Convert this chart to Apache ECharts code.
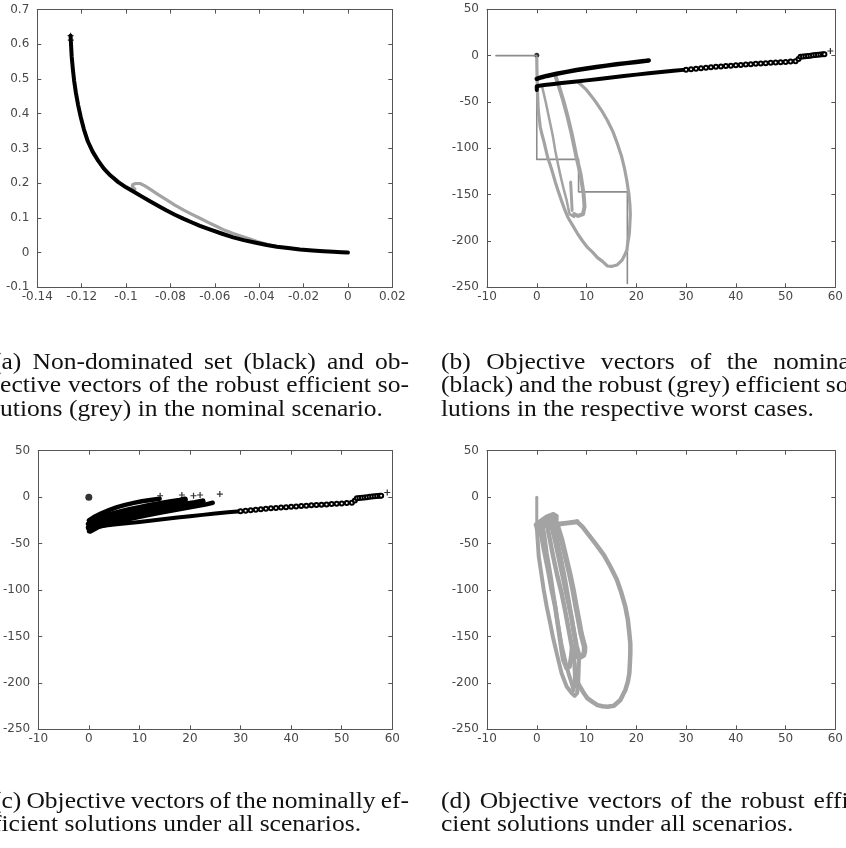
<!DOCTYPE html>
<html><head><meta charset="utf-8">
<script src="https://cdn.jsdelivr.net/npm/echarts@6/dist/echarts.min.js"></script>
<style>html,body{margin:0;padding:0;background:#fff}#c{width:846px;height:848px}</style>
</head><body><div id="c"></div>
<script>
// ---------- axis ranges [min, max, interval] ----------
const aXRange = [-0.14, 0.02, 0.02];
const aYRange = [-0.1, 0.7, 0.1];
const bXRange = [-10, 60, 10];
const bYRange = [-250, 50, 50];

// ---------- (a) nominal scenario ----------
const aNonDominated = [[-0.1250,0.625],[-0.1248,0.600],[-0.1245,0.565],[-0.1240,0.530],[-0.1234,0.495],[-0.1226,0.460],[-0.1216,0.425],[-0.1204,0.390],[-0.1190,0.355],[-0.1172,0.320],[-0.1150,0.290],[-0.1125,0.264],[-0.1100,0.242],[-0.1070,0.222],[-0.1035,0.203],[-0.1000,0.188],[-0.0967,0.176],[-0.0930,0.162],[-0.0890,0.147],[-0.0850,0.133],[-0.0817,0.121],[-0.0780,0.109],[-0.0740,0.097],[-0.0700,0.086],[-0.0667,0.077],[-0.0620,0.066],[-0.0570,0.055],[-0.0517,0.044],[-0.0470,0.036],[-0.0420,0.029],[-0.0366,0.022],[-0.0320,0.017],[-0.0270,0.013],[-0.0216,0.009],[-0.0160,0.006],[-0.0110,0.004],[-0.0066,0.0025],[-0.0030,0.001],[0.0000,0.000]];
const aTopPlus = [[-0.1250,0.625],[-0.1249,0.612]];
const aRobust = [[-0.0960,0.183],[-0.0972,0.190],[-0.0970,0.196],[-0.0957,0.199],[-0.0937,0.199],[-0.0915,0.192],[-0.0892,0.183],[-0.0855,0.167],[-0.0817,0.152],[-0.0780,0.137],[-0.0742,0.123],[-0.0705,0.111],[-0.0667,0.099],[-0.0630,0.087],[-0.0591,0.075],[-0.0555,0.064],[-0.0517,0.055],[-0.0480,0.047],[-0.0441,0.039],[-0.0410,0.032],[-0.0381,0.027],[-0.0350,0.021],[-0.0320,0.017]];

// ---------- nominal efficient, lower branch (b, c) ----------
const lowerDense = [[0,-37],[0,-33],[0.5,-32.5],[1.5,-31.8],[3,-30.8],[5,-29.6],[7.5,-28.2],[10,-26.7],[12.5,-25.2],[15,-23.6],[17.5,-22],[20,-20.5],[22.5,-19.1],[25,-17.7],[27.5,-16.4],[30,-15.1]];
const lowerSparse = [[30,-15.1],[31,-14.6],[32,-14.1],[33,-13.6],[34,-13.1],[35,-12.6],[36,-12.1],[37,-11.6],[38,-11.2],[39,-10.8],[40,-10.4],[41,-10],[42,-9.6],[43,-9.2],[44,-8.8],[45,-8.4],[46,-8.1],[47,-7.8],[48,-7.4],[49,-7.1],[50,-6.8],[51,-6.4],[52,-6.0]];
const lowerJump = [[52.6,-3.5],[53,-1.2],[53.5,-0.9],[54,-0.6],[54.5,-0.3],[55,0],[55.5,0.3],[56,0.6],[56.5,0.9],[57,1.1],[57.5,1.4],[57.8,1.6]];
const lowerOutlierCircle = [[58.5,-2.5]];
const lowerOutlierPlus = [[59,5]];

// ---------- (b) worst cases ----------
const bNominalUpper = [[0,-25],[0.3,-24.5],[1,-23.3],[2,-21.9],[4,-19.6],[6,-17.5],[8,-15.6],[10,-13.9],[12,-12.3],[14,-10.8],[16,-9.4],[18,-8.1],[20,-6.9],[22,-5.6],[22.5,-5.2]];
const bOrigin = [[0,0.5]];
const bWorstStep = [[-8.2,0],[0,0],[0,-112],[8.4,-112],[8.4,-147],[18.2,-147],[18.2,-246]];
const bRobustOuter = [[8.3,-28.5],[10,-37],[11.6,-48],[13,-59],[14.2,-70],[15.3,-82],[16.2,-95],[17,-108],[17.6,-121],[18.1,-135],[18.5,-149],[18.7,-160],[18.8,-171],[18.7,-182],[18.6,-192],[18.3,-202],[18.1,-210],[17.6,-216],[17.1,-221],[16.1,-226],[15,-227.5],[14.2,-227],[13.2,-222],[12.2,-218],[11.2,-212],[10.2,-207],[9.2,-200],[8.3,-193],[7.3,-184],[6.3,-175],[5.6,-166],[5,-157],[4.3,-146],[3.7,-136],[3,-123],[2.2,-110],[1.8,-101],[1.4,-92],[1,-84],[0.7,-77],[0.5,-68],[0.3,-59],[0.15,-40],[0.05,-20],[0,-3]];
const bRobustMiddle = [[3.7,-21],[4.5,-34],[5.3,-48],[6.2,-66],[7,-84],[7.5,-97],[8,-110],[8.8,-128],[9.4,-149],[9.6,-163],[9.3,-171],[8.3,-173],[7.5,-171]];
const bRobustHook = [[6.8,-136.5],[6.9,-146],[7,-156],[7.1,-167]];
const bRobustInner = [[1.1,-34],[1.8,-50],[2.5,-68],[3.2,-86],[3.7,-102],[4.3,-118],[5,-135],[5.5,-146],[6,-156],[6.3,-164],[6.6,-171],[7.5,-174]];

// ---------- (c) nominally efficient, all scenarios ----------
const cOrigin = [[0,0]];
const cFanTop = [[0,-25],[1,-21.5],[2.5,-17.5],[4,-14],[5.6,-10.8],[7.2,-8.3],[8.9,-6.2],[10.5,-4.5],[12.2,-3],[14,-1.8]];
const cFanMidA = [[0,-29],[2,-23],[4,-19.5],[6,-16.5],[8,-13.8],[10,-11.5],[12,-9.3],[14,-7.3],[16,-5.5],[18,-3.8],[19,-2.5]];
const cFanMidB = [[0,-33],[3,-26],[6,-21.5],[9,-17.8],[12,-14.5],[15,-11.5],[18,-8.8],[21,-6.2],[22.5,-4.5]];
const cFanBottom = [[0.3,-37],[2,-32],[5,-27.5],[8,-23.5],[11,-20],[14,-16.8],[17,-13.8],[20,-11],[23,-8],[24.5,-6]];
const cFanTips = [[12.5,-2.5],[13,-1],[13.5,-2],[16,-1],[16.8,-0.2],[17.5,-1],[18,-0.5],[19.5,-1.2],[20,0],[21.5,-0.5],[22.5,-2.5],[23.5,-1],[24.5,-0.5],[25.5,0.5],[25.8,-3.8]];
const cFanPlus = [[14.1,1.5],[18.4,2.3],[20.7,1.5],[22,2.3],[25.9,3.3]];

// ---------- (d) robust efficient, all scenarios ----------
const dSpike = [[0,0],[0,-10],[0,-20],[0,-30]];
const dTopBlob = [[0,-30],[1,-26],[2,-22],[2.4,-20.4],[3.3,-19.3],[3.8,-21]];
const dTopBlob2 = [[0.2,-33],[1,-29],[2,-25],[3,-23],[3.8,-24]];
const dRoof = [[0.3,-31],[2,-30.3],[4,-29.3],[6,-28],[8.1,-26.5]];
const dBigLoop = [[8.1,-26.5],[9.2,-32],[10.2,-39],[11.8,-50],[13.5,-62.4],[14.8,-75],[16.1,-89],[17,-103],[17.8,-118],[18.3,-132],[18.6,-146.7],[18.8,-158],[18.8,-168],[18.7,-180],[18.6,-189.8],[18.3,-199],[17.8,-207.7],[17.3,-213],[16.8,-218.5],[15.5,-224.6],[14.2,-225.7],[13.2,-225.2],[12.2,-224],[11.2,-220.5],[10.2,-216.7],[9.5,-211.5],[8.9,-206],[8.3,-200.5]];
const dMiddleBand = [[3.3,-19.3],[4.2,-32],[5,-46],[5.8,-64],[6.6,-82],[7.3,-100],[7.9,-118],[8.4,-132],[8.9,-146.7],[9.3,-155],[9.6,-161],[9.6,-166],[9.4,-170],[8.6,-172.5],[7.7,-171]];
const dMiddleBand2 = [[2.4,-20.4],[3,-32],[3.8,-50],[4.6,-70],[5.4,-90],[6.2,-110],[7,-130],[7.6,-150],[8,-165],[8.2,-172]];
const dOuterLeft = [[0,-31.8],[0.2,-48],[0.4,-64],[0.9,-82],[1.4,-100],[2,-118],[2.7,-136],[3.3,-152],[4,-168],[4.5,-179],[5,-190],[5.5,-197],[6,-204],[7,-211],[7.6,-214],[8.1,-211],[8.3,-204],[8.4,-190],[8.5,-172]];
const dSmallLoop = [[0.7,-35.4],[1.5,-58],[2.4,-82],[3,-100],[3.7,-118],[4.2,-136],[4.7,-154],[5,-165],[5.3,-175],[6,-184.4],[6.6,-182.6],[6.9,-171.8],[7.1,-161]];
const dChain3 = [[1.8,-23],[2.5,-42],[3.3,-64],[4.1,-84],[5,-103.6],[5.7,-122],[6.3,-139.5],[6.8,-154],[7.3,-168],[7.6,-180],[7.7,-190],[7.7,-204]];
const dChain4 = [[1,-25],[1.5,-40],[2,-60],[2.8,-85],[3.5,-110],[4.2,-135],[5,-160],[5.8,-178],[6.5,-192],[7,-200],[7.4,-208]];
const dChain5 = [[3,-22],[3.8,-40],[4.8,-65],[5.7,-90],[6.5,-115],[7.3,-140],[8,-160],[8.6,-172]];

// ---------- captions ----------
const captionA = ["(a) Non-dominated set (black) and ob-", "jective vectors of the robust efficient so-", "lutions (grey) in the nominal scenario."];
const captionB = ["(b) Objective vectors of the nominal", "(black) and the robust (grey) efficient so-", "lutions in the respective worst cases."];
const captionC = ["(c) Objective vectors of the nominally ef-", "ficient solutions under all scenarios."];
const captionD = ["(d) Objective vectors of the robust effi-", "cient solutions under all scenarios."];

// ---------- layout / style ----------
const GRIDS = [
  {left:37.3, top:9.6, width:355, height:277.7},
  {left:487, top:9.3, width:354.3, height:278},
  {left:37.3, top:450.7, width:355, height:278.6},
  {left:487, top:450.7, width:354.3, height:278.6}
];
const RANGES = [[aXRange,aYRange],[bXRange,bYRange],[bXRange,bYRange],[bXRange,bYRange]];
const AX = '#555';
const GREY = '#a3a3a3';
const BLACK = '#000';

const xAxes = [], yAxes = [];
GRIDS.forEach((g, i) => {
  const [xr, yr] = RANGES[i];
  const common = {type:'value', gridIndex:i, splitLine:{show:false},
    axisLine:{show:true, onZero:false, lineStyle:{color:AX, width:1}},
    axisTick:{show:true, inside:true, length:4, lineStyle:{color:AX}}};
  xAxes.push(Object.assign({}, common, {position:'bottom', min:xr[0], max:xr[1], interval:xr[2],
    axisLabel:{color:'#484848', fontSize:12, fontFamily:'DejaVu Sans', margin:4}}));
  xAxes.push(Object.assign({}, common, {position:'top', min:xr[0], max:xr[1], interval:xr[2], axisLabel:{show:false}}));
  yAxes.push(Object.assign({}, common, {position:'left', min:yr[0], max:yr[1], interval:yr[2],
    axisLabel:{color:'#484848', fontSize:12, fontFamily:'DejaVu Sans', margin:8}}));
  yAxes.push(Object.assign({}, common, {position:'right', min:yr[0], max:yr[1], interval:yr[2], axisLabel:{show:false}}));
});

const series = [];
function chain(gi, data, color, width, extra) {
  series.push(Object.assign({type:'line', xAxisIndex:2*gi, yAxisIndex:2*gi, data,
    showSymbol:false, symbol:'none', silent:true, animation:false,
    lineStyle:{color, width, cap:'round', join:'round'}}, extra || {}));
}
function dots(gi, data, symbol, size, color, filled) {
  series.push({type:'scatter', xAxisIndex:2*gi, yAxisIndex:2*gi, data, symbol, symbolSize:size, silent:true, animation:false,
    itemStyle: filled ? {color} : {color:'#fff', borderColor:color, borderWidth:1}});
}
const PLUS = 'path://M4,0H6V4H10V6H6V10H4V6H0V4H4Z';

// (a)
chain(0, aRobust, GREY, 3.2);
chain(0, aNonDominated, BLACK, 4);
dots(0, aTopPlus, PLUS, 6, BLACK, true);

// (b)
chain(1, bWorstStep, '#8c8c8c', 1.6);
chain(1, bRobustOuter, GREY, 3.2);
chain(1, bRobustInner, GREY, 2.5);
chain(1, bRobustMiddle, GREY, 4);
chain(1, bRobustHook, GREY, 3);
chain(1, bNominalUpper, BLACK, 4.5);
chain(1, lowerDense, BLACK, 4);
chain(1, lowerSparse, BLACK, 1.6, {showSymbol:true, symbol:'emptyCircle', symbolSize:4, itemStyle:{color:BLACK}});
chain(1, lowerJump, BLACK, 1.2, {showSymbol:true, symbol:'emptyCircle', symbolSize:4, itemStyle:{color:BLACK}});
dots(1, lowerOutlierCircle, 'emptyCircle', 4, BLACK, false);
dots(1, lowerOutlierPlus, PLUS, 6, BLACK, true);
dots(1, bOrigin, 'circle', 5, BLACK, true);

// (c)
chain(2, cFanMidA, BLACK, 6);
chain(2, cFanMidB, BLACK, 6);
chain(2, cFanTop, BLACK, 4.5);
chain(2, cFanBottom, BLACK, 4.5);
dots(2, cFanTips, 'emptyCircle', 5, BLACK, false);
dots(2, cFanPlus, PLUS, 6, BLACK, true);
chain(2, lowerDense, BLACK, 4);
chain(2, lowerSparse, BLACK, 1.6, {showSymbol:true, symbol:'emptyCircle', symbolSize:4, itemStyle:{color:BLACK}});
chain(2, lowerJump, BLACK, 1.2, {showSymbol:true, symbol:'emptyCircle', symbolSize:4, itemStyle:{color:BLACK}});
dots(2, lowerOutlierCircle, 'emptyCircle', 4, BLACK, false);
dots(2, lowerOutlierPlus, PLUS, 6, BLACK, true);
dots(2, cOrigin, 'circle', 7, BLACK, true);

// (d)
chain(3, dSpike, GREY, 3);
chain(3, dOuterLeft, GREY, 4);
chain(3, dSmallLoop, GREY, 4.5);
chain(3, dChain3, GREY, 4.5);
chain(3, dChain4, GREY, 4);
chain(3, dChain5, GREY, 4.5);
chain(3, dMiddleBand2, GREY, 4.5);
chain(3, dMiddleBand, GREY, 5.5);
chain(3, dTopBlob, GREY, 6);
chain(3, dTopBlob2, GREY, 6);
chain(3, dRoof, GREY, 5);
chain(3, dBigLoop, GREY, 4.5);

// ---------- caption text layout (justified, serif) ----------
const FS = 23, FONT = FS + 'px "Liberation Serif"';
const COL_X = [-7, 441], COL_W = 416;
const ctx = document.createElement('canvas').getContext('2d');
ctx.font = FONT;
const SX = 390 / ctx.measureText(captionA[2]).width;
const graphic = [];
function caption(lines, x0, baselines) {
  lines.forEach((line, i) => {
    const words = line.split(' ');
    const widths = words.map(w => ctx.measureText(w).width * SX);
    const last = i === lines.length - 1;
    const gap = last ? ctx.measureText(' ').width * SX
      : (COL_W - widths.reduce((a, b) => a + b, 0)) / (words.length - 1);
    let x = x0;
    words.forEach((w, k) => {
      graphic.push({type:'text', x, y:baselines[i] - 0.34 * FS, scaleX:SX, silent:true,
        style:{text:w, font:FONT, fill:'#111', textAlign:'left', textVerticalAlign:'middle', align:'left', verticalAlign:'middle'}});
      x += widths[k] + gap;
    });
  });
}
caption(captionA, COL_X[0], [370.7, 394, 417.3]);
caption(captionB, COL_X[1], [370.7, 394, 417.3]);
caption(captionC, COL_X[0], [809.5, 833]);
caption(captionD, COL_X[1], [809.5, 833]);

const chart = echarts.init(document.getElementById('c'), null, {renderer:'canvas'});
chart.setOption({
  animation:false,
  backgroundColor:'#fff',
  grid: GRIDS.map(g => Object.assign({containLabel:false}, g)),
  xAxis: xAxes,
  yAxis: yAxes,
  series,
  graphic
});
</script></body></html>
